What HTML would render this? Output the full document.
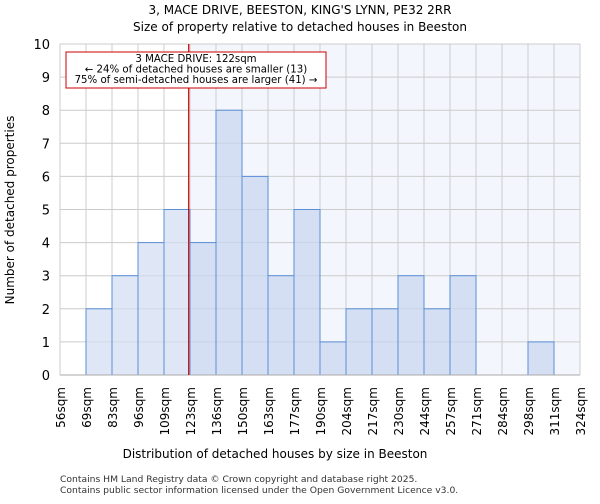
<!DOCTYPE html>
<html><head><meta charset="utf-8"><style>
body{margin:0;background:#fff;font-family:"DejaVu Sans","Liberation Sans",sans-serif}
</style></head><body>
<svg id="c" width="600" height="500" xmlns="http://www.w3.org/2000/svg" font-family="DejaVu Sans, Liberation Sans, sans-serif">
<text x="300" y="14" font-size="12" text-anchor="middle">3, MACE DRIVE, BEESTON, KING'S LYNN, PE32 2RR</text>
<text x="300" y="31" font-size="12" text-anchor="middle">Size of property relative to detached houses in Beeston</text>
<g id="plot"></g>
<text x="275" y="458" font-size="12" text-anchor="middle">Distribution of detached houses by size in Beeston</text>
<text transform="translate(14,210) rotate(-90)" font-size="12" text-anchor="middle">Number of detached properties</text>
<text x="60" y="482" font-size="9.2" fill="#333">Contains HM Land Registry data © Crown copyright and database right 2025.</text>
<text x="60" y="493" font-size="9.2" fill="#333">Contains public sector information licensed under the Open Government Licence v3.0.</text>
</svg>
<script>
const binLabels=["56sqm","69sqm","83sqm","96sqm","109sqm","123sqm","136sqm","150sqm","163sqm","177sqm","190sqm","204sqm","217sqm","230sqm","244sqm","257sqm","271sqm","284sqm","298sqm","311sqm","324sqm"];
const counts=[0,2,3,4,5,4,8,6,3,5,1,2,2,3,2,3,0,0,1,0];
const yTicks=[0,1,2,3,4,5,6,7,8,9,10];
const propertyBin=4.95;
const ns="http://www.w3.org/2000/svg";
const L=60,R=580,T=44,B=375,yMax=10;
const bw=(R-L)/counts.length;
const xs=i=>L+i*bw, ys=v=>B-(v/yMax)*(B-T);
const g=document.getElementById('plot');
function el(t,a){const e=document.createElementNS(ns,t);for(const k in a)e.setAttribute(k,a[k]);g.appendChild(e);return e;}
const px=xs(propertyBin);
let e=el('rect',{x:px,y:T,width:R-px,height:B-T,fill:'#f3f6fd'});


yTicks.forEach(t=>{
 const l=el('line',{x1:L,x2:R,y1:ys(t),y2:ys(t),stroke:'#ccc'});
 
 
 const tx=el('text',{x:L-10,y:ys(t)+5,'font-size':13,'text-anchor':'end'});tx.textContent=t;
 
 
});
binLabels.forEach((s,i)=>{
 const l=el('line',{x1:xs(i),x2:xs(i),y1:T,y2:B,stroke:'#ccc'});
 
 
 const tx=el('text',{transform:`translate(${xs(i)+5},${B+12}) rotate(-90)`,'font-size':12,'text-anchor':'end'});tx.textContent=s;
 
 
});
counts.forEach((v,i)=>{if(!v)return;
 const r=el('rect',{x:xs(i),y:ys(v),width:bw,height:B-ys(v),fill:xs(i)>=px?'#c6d6f0':'#d2ddf2','fill-opacity':0.7,stroke:'#5b8fd6','stroke-width':1});
 
 
});
e=el('line',{x1:L,x2:R,y1:B,y2:B,stroke:'#aaa'});


e=el('line',{x1:px,x2:px,y1:T,y2:B,stroke:'#cc0000','stroke-width':1.2});


e=el('rect',{x:66,y:52,width:260,height:36,fill:'#fff',stroke:'#cc0000'});


["3 MACE DRIVE: 122sqm","← 24% of detached houses are smaller (13)","75% of semi-detached houses are larger (41) →"].forEach((s,i)=>{
 const tx=el('text',{x:196,y:62+i*10.5,'font-size':10.2,'text-anchor':'middle'});tx.textContent=s;
 
 
});
</script>
</body></html>
